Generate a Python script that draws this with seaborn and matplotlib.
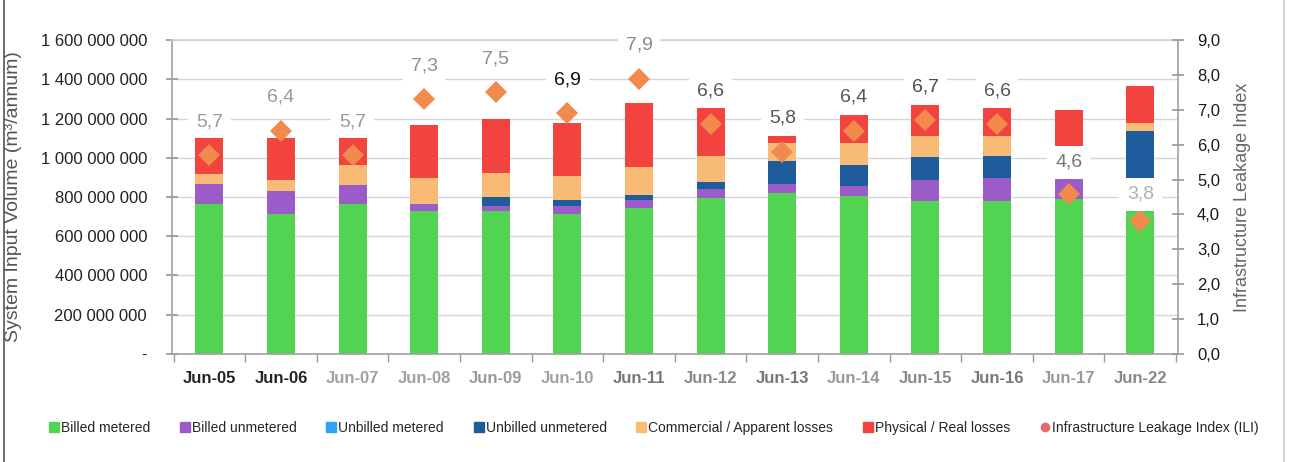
import matplotlib.pyplot as plt
import numpy as np
import pandas as pd
import seaborn as sns
from matplotlib.lines import Line2D
from matplotlib.ticker import FuncFormatter, FixedLocator

# values in million m3 per annum
years = ["Jun-05", "Jun-06", "Jun-07", "Jun-08", "Jun-09", "Jun-10", "Jun-11",
         "Jun-12", "Jun-13", "Jun-14", "Jun-15", "Jun-16", "Jun-17", "Jun-22"]
billed_metered = [765, 715, 763, 729, 729, 712, 745, 797, 822, 805, 780, 780, 788, 729]
billed_unmetered = [102, 115, 98, 37, 25, 42, 38, 42, 43, 51, 105, 118, 102, 0]
unbilled_metered = [0, 0, 0, 0, 0, 0, 0, 0, 0, 0, 0, 0, 0, 0]
unbilled_unmetered = [0, 0, 0, 0, 46, 29, 27, 39, 118, 107, 119, 111, 85, 407]
commercial_losses = [51, 55, 102, 132, 124, 124, 145, 131, 94, 114, 106, 101, 80, 44]
physical_losses = [184, 215, 147, 269, 276, 273, 325, 243, 33, 141, 162, 142, 187, 186]
ili = [5.7, 6.4, 5.7, 7.3, 7.5, 6.9, 7.9, 6.6, 5.8, 6.4, 6.7, 6.6, 4.6, 3.8]
ili_label_colors = ["#9a9a9a", "#9a9a9a", "#9a9a9a", "#8f8f8f", "#8f8f8f", "#111111", "#8a8a8a",
                    "#555555", "#555555", "#555555", "#4a4a4a", "#555555", "#777777", "#b0b0b0"]
ili_label_offsets = [24, 24, 24, 24, 24, 24, 24, 24, 24, 24, 24, 24, 22.5, 19.5]
xtick_colors = ["#222222", "#222222", "#a0a0a0", "#a0a0a0", "#999999", "#a0a0a0", "#777777",
                "#888888", "#777777", "#999999", "#888888", "#777777", "#999999", "#888888"]

series = [
    ("Billed metered", billed_metered, "#52d452"),
    ("Billed unmetered", billed_unmetered, "#9b5bc9"),
    ("Unbilled metered", unbilled_metered, "#2fa3f5"),
    ("Unbilled unmetered", unbilled_unmetered, "#1f5c9c"),
    ("Commercial / Apparent losses", commercial_losses, "#f7bb76"),
    ("Physical / Real losses", physical_losses, "#f2433f"),
]

df = pd.DataFrame({"year": years})
running = np.zeros(len(years))
for name, vals, _ in series:
    running = running + np.array(vals) * 1e6
    df[name] = running

sns.set_theme(style="white")
plt.rcParams["font.family"] = ["Liberation Sans", "DejaVu Sans"]

fig = plt.figure(figsize=(12.94, 4.62), dpi=100)
ax = fig.add_axes([0.133, 0.234, 0.777, 0.679])

# stacked bars: draw cumulative totals from the top down
for name, _, color in reversed(series):
    sns.barplot(data=df, x="year", y=name, color=color, width=0.39,
                saturation=1, ax=ax, edgecolor="none", zorder=2)

ax.set_ylim(0, 1.6e9)
ax.set_xlim(-0.52, len(years) - 0.48)
ax.yaxis.set_major_locator(FixedLocator(np.arange(0, 1.61e9, 2e8)))
ax.yaxis.set_major_formatter(FuncFormatter(
    lambda v, p: "-" if v == 0 else f"{int(round(v)):,}".replace(",", " ")))
ax.grid(axis="y", color="#d6d6d6", lw=1, zorder=0)
ax.set_axisbelow(True)
ax.set_xlabel("")
ax.set_ylabel("System Input Volume (m³/annum)", fontsize=14, color="#555555")
ax.yaxis.set_label_coords(-0.149, 0.5)
ax.tick_params(axis="y", labelsize=12, labelcolor="#222222", direction="inout",
               length=8, color="#999999", pad=14, left=True)
ax.set_xticks(range(len(years)))
ax.set_xticklabels(years, fontsize=12, fontweight="bold")
for lbl, c in zip(ax.get_xticklabels(), xtick_colors):
    lbl.set_color(c)
ax.tick_params(axis="x", which="major", length=0, pad=12)
ax.set_xticks(np.arange(-0.5, len(years), 1.0), minor=True)
ax.tick_params(axis="x", which="minor", length=6, color="#999999", bottom=True)
for side in ["left", "right", "bottom"]:
    ax.spines[side].set_color("#a0a0a0")
    ax.spines[side].set_linewidth(1.2)
ax.spines["top"].set_color("#d6d6d6")

# ILI on the secondary axis
ax2 = ax.twinx()
sns.pointplot(x=years, y=ili, ax=ax2, linestyle="none", marker="D",
              color="#f28a4f", markersize=11, markeredgewidth=0, zorder=4)
ax2.set_ylim(0, 9)
ax2.set_xlim(-0.52, len(years) - 0.48)
ax2.set_yticks(np.arange(0, 9.1, 1))
ax2.yaxis.set_major_formatter(FuncFormatter(lambda v, p: f"{v:.1f}".replace(".", ",")))
ax2.tick_params(axis="y", labelsize=12, labelcolor="#1a1a1a", direction="inout",
                length=8, color="#999999", pad=10, right=True)
ax2.set_ylabel("Infrastructure Leakage Index", fontsize=13, color="#666666")
ax2.yaxis.set_label_coords(1.056, 0.5)
for s in ax2.spines.values():
    s.set_visible(False)

for i, (v, c, off) in enumerate(zip(ili, ili_label_colors, ili_label_offsets)):
    ax2.annotate(f"{v:.1f}".replace(".", ","), (i, v), xytext=(0, off),
                 textcoords="offset points", ha="center", va="center",
                 fontsize=14, color=c, zorder=5,
                 bbox=dict(boxstyle="square,pad=0.4", fc="white", ec="none"))

# legend
handles = [Line2D([], [], marker="s", ls="none", color=c, markersize=7)
           for _, _, c in series]
handles.append(Line2D([], [], marker="o", ls="none", color="#e86a6a", markersize=6))
labels = [n for n, _, _ in series] + ["Infrastructure Leakage Index (ILI)"]
fig.legend(handles, labels, loc="center", bbox_to_anchor=(0.505, 0.074), ncol=7,
           frameon=False, fontsize=10, handletextpad=0.1, columnspacing=2.1,
           handlelength=0.8)

fig.add_artist(Line2D([0.003, 0.003], [0.0, 1.0], color="#555555", lw=1.2))
fig.add_artist(Line2D([0.992, 0.992], [0.0, 1.0], color="#cccccc", lw=1.2))

fig.savefig("out.png", dpi=100)
